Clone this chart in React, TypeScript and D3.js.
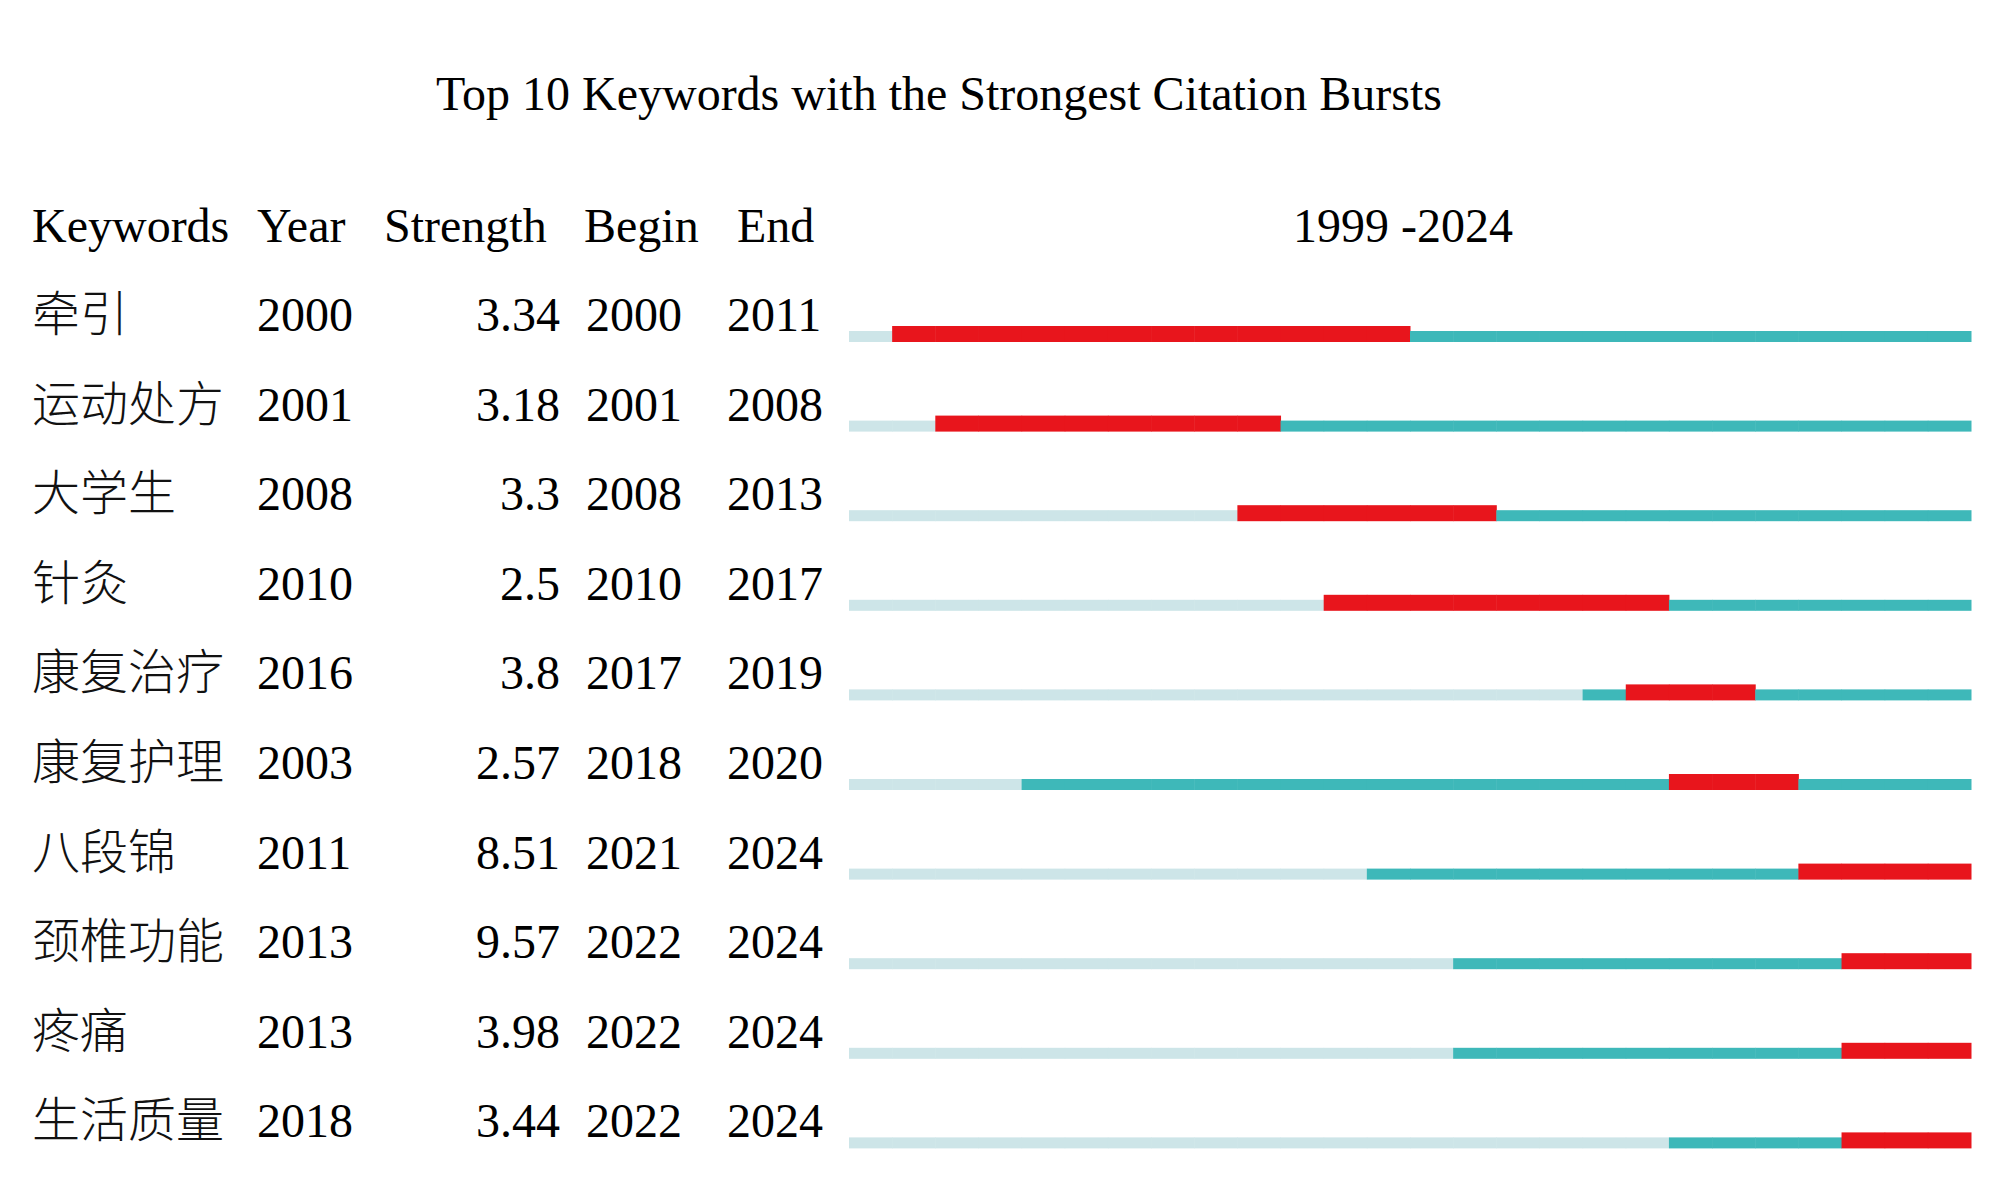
import React from "react";
import * as d3 from "d3";

const keywords = ["牵引", "运动处方", "大学生", "针灸", "康复治疗", "康复护理", "八段锦", "颈椎功能", "疼痛", "生活质量"];
const years = [2000, 2001, 2008, 2010, 2016, 2003, 2011, 2013, 2013, 2018];
const strengths = ["3.34", "3.18", "3.3", "2.5", "3.8", "2.57", "8.51", "9.57", "3.98", "3.44"];
const begins = [2000, 2001, 2008, 2010, 2017, 2018, 2021, 2022, 2022, 2022];
const ends = [2011, 2008, 2013, 2017, 2019, 2020, 2024, 2024, 2024, 2024];
const firstYear = 1999;
const lastYear = 2024;

const title = "Top 10 Keywords with the Strongest Citation Bursts";
const headers = ["Keywords", "Year", "Strength", "Begin", "End"];

const RED = "#e8151c";
const TEAL = "#3eb8b9";
const LIGHT = "#cde5e8";

const FONT = "'Liberation Serif', 'Times New Roman', serif";
const CJK_FONT = "'Noto Sans CJK SC', sans-serif";

export default function App() {
  const width = 2000;
  const height = 1197;

  const x = d3.scaleLinear().domain([firstYear, lastYear + 1]).range([849, 1971]);
  const rowY = d3.scaleLinear().domain([0, 1]).range([331, 331 + 89.6]);

  const allYears = d3.range(firstYear, lastYear + 1);

  const cellColor = (i: number, yr: number) => {
    if (yr < years[i]) return LIGHT;
    if (yr >= begins[i] && yr <= ends[i]) return RED;
    return TEAL;
  };

  return (
    <svg
      width={width}
      height={height}
      style={{ position: "absolute", left: 0, top: 0, background: "#fff" }}
      fontFamily={FONT}
    >
      <rect width={width} height={height} fill="#fff" />
      <text x={939} y={110} fontSize={48} textAnchor="middle" fill="#000">
        {title}
      </text>

      {/* header row */}
      <g fontSize={48} fill="#000">
        <text x={32} y={242}>{headers[0]}</text>
        <text x={257} y={242}>{headers[1]}</text>
        <text x={384} y={242}>{headers[2]}</text>
        <text x={584} y={242}>{headers[3]}</text>
        <text x={737} y={242}>{headers[4]}</text>
        <text x={1293} y={242}>{`${firstYear} -${lastYear}`}</text>
      </g>

      {keywords.map((kw, i) => {
        const y = rowY(i);
        return (
          <g key={kw} fontSize={48} fill="#000">
            <text x={32} y={y} fontFamily={CJK_FONT} fontWeight={300} fill="#111">{kw}</text>
            <text x={257} y={y}>{years[i]}</text>
            <text x={560} y={y} textAnchor="end">{strengths[i]}</text>
            <text x={586} y={y}>{begins[i]}</text>
            <text x={727} y={y}>{ends[i]}</text>
            {allYears.map((yr) => {
              const c = cellColor(i, yr);
              const h = c === RED ? 16 : 11;
              return (
                <rect
                  key={yr}
                  x={x(yr)}
                  y={y + 11 - h}
                  width={x(yr + 1) - x(yr) + 0.5}
                  height={h}
                  fill={c}
                />
              );
            })}
          </g>
        );
      })}
    </svg>
  );
}
